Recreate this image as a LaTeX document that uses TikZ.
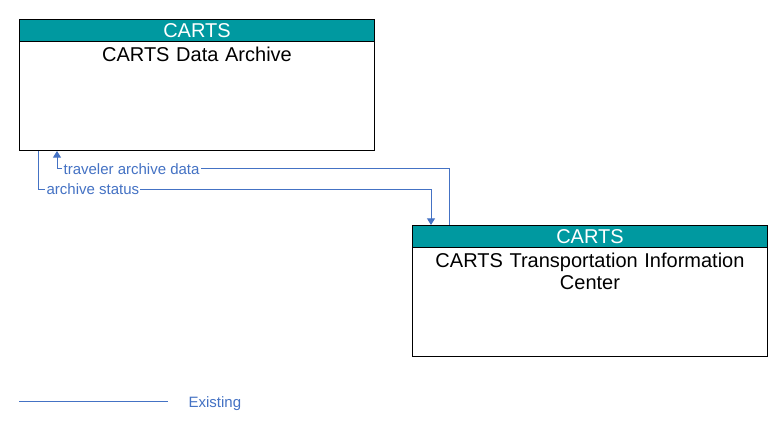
\documentclass[tikz,border=0pt]{standalone}
\usepackage{fontspec}
\setmainfont{Liberation Sans}
\usetikzlibrary{positioning,arrows.meta}
\definecolor{cartsteal}{RGB}{0,153,160}
\definecolor{flowblue}{RGB}{68,114,196}
\tikzset{
  elem/.style={draw=black, line width=0.75pt, minimum width=266.25pt, minimum height=98.25pt, inner sep=0pt},
  head/.style={draw=black, fill=cartsteal, text=white, line width=0.75pt, minimum width=266.25pt, minimum height=16.5pt, inner sep=0pt, font=\fontsize{15}{16.5}\selectfont},
  title/.style={text width=260pt, align=center, inner sep=0pt, font=\fontsize{15}{16.5}\selectfont},
  flow/.style={draw=flowblue, line width=0.75pt, -{Triangle[width=6pt,length=5pt]}},
  flowlbl/.style={text=flowblue, fill=white, inner sep=1pt, font=\fontsize{11.25}{12}\selectfont},
}
\begin{document}
\begin{tikzpicture}[x=0.75pt,y=-0.75pt]
            \useasboundingbox (0,0) rectangle (783,431);
            % elements
            \node[elem, anchor=north west] (archive) at (19,19) {};
            \node[head, anchor=north] (archivehead) at (archive.north) {CARTS};
            \node[title, below=3.5pt of archivehead] (archivetitle) {CARTS Data Archive};
            \node[elem, anchor=north west] (tic) at (412,225) {};
            \node[head, anchor=north] (tichead) at (tic.north) {CARTS};
            \node[title, below=3.5pt of tichead] (tictitle) {CARTS Transportation Information\\Center};
            % flows
            \draw[flow] ([xshift=14.25pt]archive.south west) -- ++(0,39) -| ([xshift=14.25pt]tic.north west);
            \draw[flow] ([xshift=27.75pt]tic.north west) -- ++(0,-56) -| ([xshift=28.5pt]archive.south west);
            \node[flowlbl, anchor=west] (statuslbl) at (45,189) {archive status};
            \node[flowlbl, anchor=west] (travellbl) at (62,169) {traveler archive data};
            % legend
            \coordinate (legstart) at (19,402);
            \coordinate (legend) at (168,402);
            \draw[flowblue, line width=0.75pt] (legstart) -- (legend);
            \node[flowlbl, anchor=west] (existlbl) at (187,403.5) {Existing};
\end{tikzpicture}
\end{document}
